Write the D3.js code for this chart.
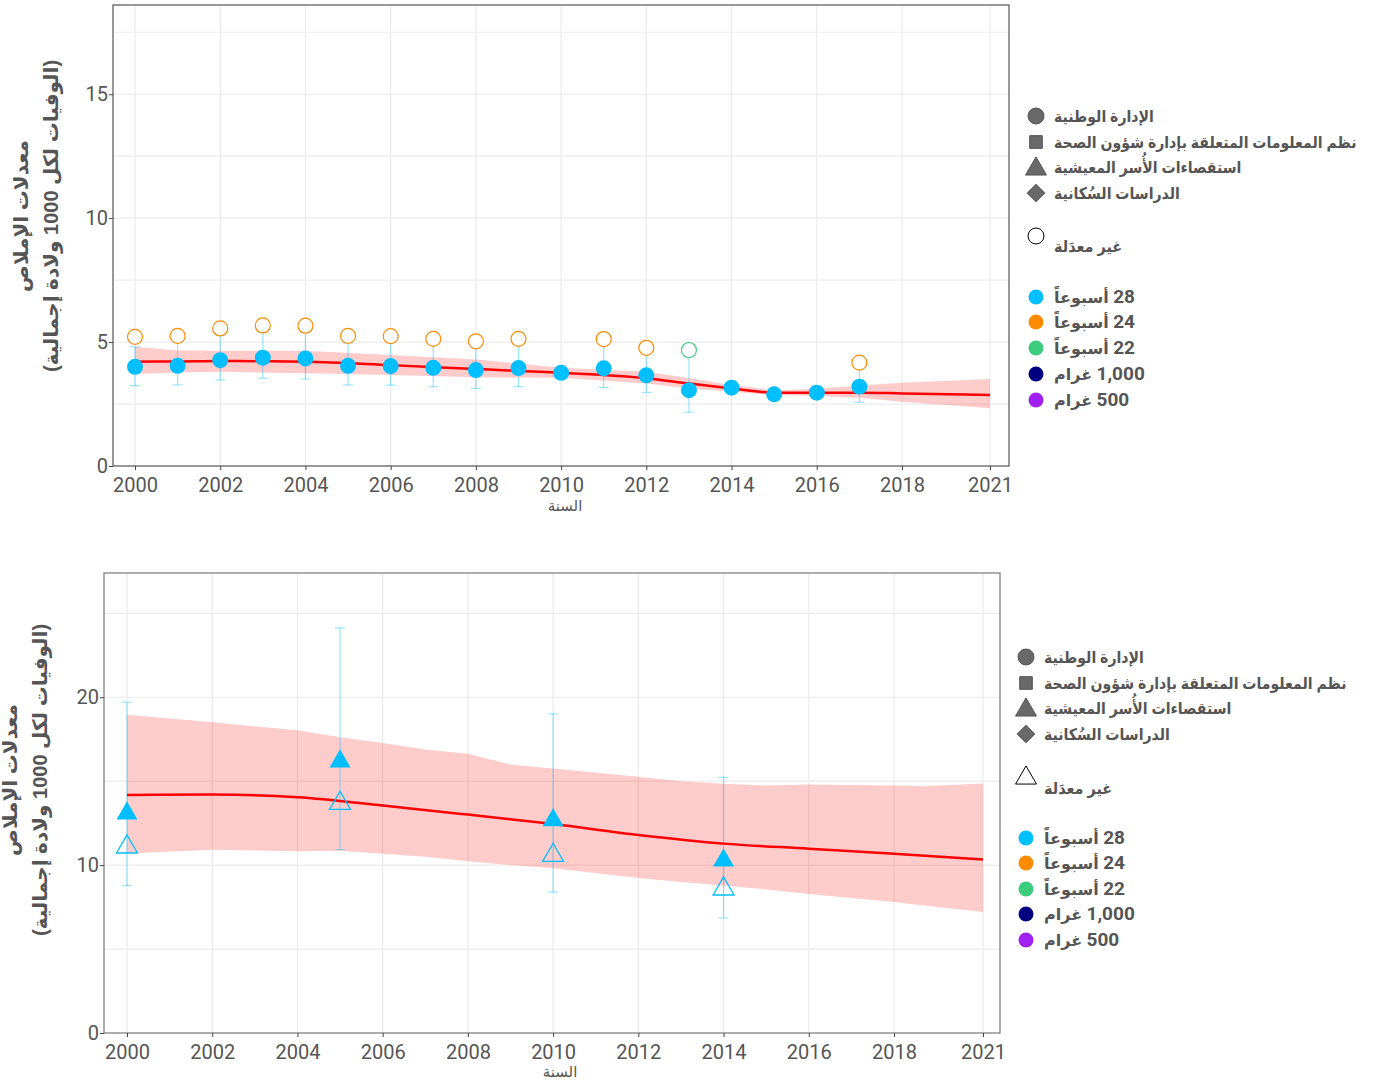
<!DOCTYPE html>
<html>
<head>
<meta charset="utf-8">
<script src="https://cdn.jsdelivr.net/npm/d3@7"></script>
<style>
  body { margin: 0; background: #fff; }
  svg { display: block; }
</style>
</head>
<body>
<div id="chart"></div>
<script>
const COLORS = {
  w28: "#00bfff",
  w24: "#ff8c00",
  w22: "#3dcc7e",
  g1000: "#000080",
  g500: "#a020f0",
};

const SOURCE_LABELS = [
  "الإدارة الوطنية",
  "نظم المعلومات المتعلقة بإدارة شؤون الصحة",
  "استقصاءات الأُسر المعيشية",
  "الدراسات السُكانية",
];
const SOURCE_SHAPES = ["circle", "square", "triangle", "diamond"];
const UNADJ_LABEL = "غير معدَلة";
const DEF_KEYS = ["w28", "w24", "w22", "g1000", "g500"];
const DEF_NUM = ["28", "24", "22", "1,000", "500"];
const DEF_UNIT = ["أسبوعاً", "أسبوعاً", "أسبوعاً", "غرام", "غرام"];

const X_TICKS = [2000, 2002, 2004, 2006, 2008, 2010, 2012, 2014, 2016, 2018, 2021];
const Y_TITLE_1 = "معدلات الإملاص";
const Y_TITLE_2 = "(الوفيات لكل 1000 ولادة إجمالية)";
const X_TITLE = "السنة";

// --- top panel: national administrative data, 28 weeks
const TOP_YEARS = [2000, 2001, 2002, 2003, 2004, 2005, 2006, 2007, 2008, 2009, 2010, 2011, 2012, 2013, 2014, 2015, 2016, 2017];
const TOP_ADJ = [4.00, 4.04, 4.27, 4.37, 4.34, 4.04, 4.03, 3.96, 3.87, 3.95, 3.76, 3.94, 3.66, 3.06, 3.16, 2.89, 2.96, 3.20];
const TOP_LO = [3.24, 3.27, 3.47, 3.54, 3.51, 3.27, 3.26, 3.20, 3.13, 3.20, null, 3.17, 2.97, 2.17, null, null, null, 2.57];
const TOP_HI = [4.81, 5.00, 5.28, 5.40, 5.40, 4.96, 5.00, 4.96, 4.77, 4.88, null, 4.88, 4.54, 4.41, null, null, null, 3.96];
const TOP_UNADJ_YEARS = [2000, 2001, 2002, 2003, 2004, 2005, 2006, 2007, 2008, 2009, 2011, 2012, 2013, 2017];
const TOP_UNADJ = [5.21, 5.25, 5.55, 5.67, 5.66, 5.25, 5.24, 5.13, 5.03, 5.13, 5.12, 4.77, 4.68, 4.17];
const TOP_UNADJ_DEF = ["w24", "w24", "w24", "w24", "w24", "w24", "w24", "w24", "w24", "w24", "w24", "w24", "w22", "w24"];
const TOP_TREND_YEARS = [2000, 2001, 2002, 2004, 2006, 2008, 2010, 2012, 2013, 2014, 2015, 2016, 2017, 2018, 2021];
const TOP_TREND = [4.21, 4.22, 4.24, 4.21, 4.07, 3.91, 3.76, 3.54, 3.33, 3.13, 2.96, 2.96, 2.96, 2.93, 2.86];
const TOP_BAND_HI = [4.81, 4.66, 4.65, 4.65, 4.48, 4.30, 3.96, 3.80, 3.55, 3.27, 3.05, 3.12, 3.25, 3.36, 3.51];
const TOP_BAND_LO = [3.71, 3.77, 3.80, 3.74, 3.67, 3.58, 3.56, 3.33, 3.13, 3.00, 2.86, 2.82, 2.75, 2.59, 2.33];

// --- bottom panel: household surveys, 28 weeks
const BOT_YEARS = [2000, 2005, 2010, 2014];
const BOT_ADJ = [13.2, 16.3, 12.8, 10.4];
const BOT_UNADJ = [11.2, 13.8, 10.7, 8.7];
const BOT_LO = [8.78, 10.92, 8.40, 6.85];
const BOT_HI = [19.7, 24.13, 19.01, 15.23];
const BOT_LINE_YEARS = [2000, 2002, 2004, 2006, 2008, 2010, 2012, 2014, 2016, 2018, 2021];
const BOT_LINE = [14.18, 14.20, 14.04, 13.55, 13.01, 12.45, 11.80, 11.28, 10.98, 10.68, 10.33];
const BOT_BAND_YEARS = [2000, 2002, 2004, 2005, 2006, 2007, 2008, 2009, 2010, 2012, 2013, 2014, 2015, 2016, 2018, 2019, 2021];
const BOT_BAND_HI = [18.95, 18.51, 18.03, 17.62, 17.28, 16.88, 16.63, 15.99, 15.76, 15.26, 15.0, 14.84, 14.74, 14.80, 14.74, 14.70, 14.86];
const BOT_BAND_LO = [10.69, 10.92, 10.82, 10.86, 10.67, 10.5, 10.23, 10.0, 9.82, 9.24, 9.0, 8.78, 8.55, 8.28, 7.81, 7.6, 7.21];

const W = 1376, H = 1080;
const TEXT = "#555";
const NUM_FONT = "Roboto, 'Liberation Sans', sans-serif";
const AR_FONT = "'Liberation Sans', 'DejaVu Sans', sans-serif";

const svg = d3.select("#chart").append("svg")
  .attr("width", W).attr("height", H)
  .attr("viewBox", `0 0 ${W} ${H}`);

function zip(xs, ys) {
  return xs.map((x, i) => ({ x, y: ys[i] }));
}

function drawPanel(cfg) {
  const { left, right, top, bottom } = cfg.frame;
  const x = d3.scaleLinear().domain([2000, 2018, 2021]).range(cfg.xRange);
  const y = d3.scaleLinear().domain([0, cfg.yMax]).range([bottom, top]);
  const g = svg.append("g");

  // grid
  const grid = g.append("g");
  cfg.yGrid.forEach((v) => {
    grid.append("line")
      .attr("x1", left).attr("x2", right).attr("y1", y(v)).attr("y2", y(v))
      .attr("stroke", "#ebebeb").attr("stroke-width", 1.2);
  });
  X_TICKS.forEach((v) => {
    grid.append("line")
      .attr("x1", x(v)).attr("x2", x(v)).attr("y1", top).attr("y2", bottom)
      .attr("stroke", "#ebebeb").attr("stroke-width", 1.2);
  });

  // uncertainty band
  const area = d3.area()
    .x((d) => x(d.x)).y0((d) => y(d.lo)).y1((d) => y(d.hi));
  g.append("path")
    .datum(cfg.bandYears.map((yr, i) => ({ x: yr, lo: cfg.bandLo[i], hi: cfg.bandHi[i] })))
    .attr("d", area)
    .attr("fill", "#ff0000").attr("fill-opacity", 0.2);

  // error bars
  const eb = g.append("g").attr("stroke", COLORS.w28).attr("stroke-opacity", 0.4).attr("stroke-width", 1.2);
  cfg.errYears.forEach((yr, i) => {
    const lo = cfg.errLo[i], hi = cfg.errHi[i];
    if (lo == null || hi == null) return;
    const cx = x(yr);
    eb.append("line").attr("x1", cx).attr("x2", cx).attr("y1", y(lo)).attr("y2", y(hi));
    eb.append("line").attr("x1", cx - 5).attr("x2", cx + 5).attr("y1", y(lo)).attr("y2", y(lo));
    eb.append("line").attr("x1", cx - 5).attr("x2", cx + 5).attr("y1", y(hi)).attr("y2", y(hi));
  });

  // trend
  const line = d3.line().x((d) => x(d.x)).y((d) => y(d.y)).curve(d3.curveMonotoneX);
  g.append("path")
    .datum(zip(cfg.lineYears, cfg.line))
    .attr("d", line)
    .attr("fill", "none").attr("stroke", "#ff0000").attr("stroke-width", 2.5);

  // points
  const pts = g.append("g");
  const tri = d3.symbol(d3.symbolTriangle, 190);
  cfg.unadj.forEach((d) => {
    const col = COLORS[d.def];
    if (cfg.shape === "circle") {
      pts.append("circle").attr("cx", x(d.x)).attr("cy", y(d.y)).attr("r", 7.5)
        .attr("fill", "#fff").attr("stroke", col).attr("stroke-width", 1.2);
    } else {
      pts.append("path").attr("d", tri)
        .attr("transform", `translate(${x(d.x)},${y(d.y) + 2})`)
        .attr("fill", "none").attr("stroke", col).attr("stroke-width", 1.3);
    }
  });
  cfg.adj.forEach((d) => {
    if (cfg.shape === "circle") {
      pts.append("circle").attr("cx", x(d.x)).attr("cy", y(d.y)).attr("r", 8)
        .attr("fill", COLORS.w28);
    } else {
      pts.append("path").attr("d", tri)
        .attr("transform", `translate(${x(d.x)},${y(d.y) + 2})`)
        .attr("fill", COLORS.w28);
    }
  });

  // frame
  g.append("rect")
    .attr("x", left).attr("y", top).attr("width", right - left).attr("height", bottom - top)
    .attr("fill", "none").attr("stroke", cfg.frameColor).attr("stroke-width", 1.2);

  // axes
  const xAxis = g.append("g").attr("transform", `translate(0,${bottom})`)
    .call(d3.axisBottom(x).tickValues(X_TICKS).tickFormat(d3.format("d")).tickSize(4).tickPadding(8));
  const yAxis = g.append("g").attr("transform", `translate(${left},0)`)
    .call(d3.axisLeft(y).tickValues(cfg.yTicks).tickSize(4).tickPadding(1));
  [xAxis, yAxis].forEach((ax) => {
    ax.select(".domain").remove();
    ax.selectAll(".tick line").attr("stroke", "#444");
    ax.selectAll("text").attr("fill", TEXT).attr("font-family", NUM_FONT).attr("font-size", 20);
  });

  // axis titles
  g.append("text")
    .attr("x", cfg.xTitle[0]).attr("y", cfg.xTitle[1])
    .attr("text-anchor", "middle")
    .attr("font-family", AR_FONT).attr("font-size", 15).attr("fill", TEXT)
    .text(X_TITLE);
  const yt = g.append("text")
    .attr("transform", `translate(${cfg.yTitleX},${cfg.yTitleY}) rotate(-90)`)
    .attr("text-anchor", "middle")
    .attr("font-family", AR_FONT).attr("font-size", 20).attr("font-weight", "bold").attr("fill", TEXT);
  yt.append("tspan").attr("x", 0).attr("dy", 0).text(Y_TITLE_1);
  yt.append("tspan").attr("x", 0).attr("dy", 30).text(Y_TITLE_2);

  // legend
  const lg = g.append("g").attr("font-family", AR_FONT).attr("font-weight", "bold")
    .attr("font-size", 16).attr("fill", TEXT);
  const lx = cfg.legend.x, tx = cfg.legend.x + 18;
  const shapeGen = {
    circle: d3.symbol(d3.symbolCircle, 200),
    square: d3.symbol(d3.symbolSquare, 160),
    triangle: d3.symbol(d3.symbolTriangle, 190),
    diamond: d3.symbol(d3.symbolSquare, 150),
  };
  SOURCE_LABELS.forEach((lab, i) => {
    const yy = cfg.legend.srcY[i];
    const shp = SOURCE_SHAPES[i];
    const rot = shp === "diamond" ? " rotate(45)" : "";
    lg.append("path").attr("d", shapeGen[shp])
      .attr("transform", `translate(${lx},${yy + (shp === "triangle" ? 2 : 0)})${rot}`)
      .attr("fill", "#696969").attr("stroke", "#555").attr("stroke-width", 1);
    lg.append("text").attr("transform", `translate(${tx},${yy + 6}) scale(0.88,1)`).text(lab);
  });
  const uy = cfg.legend.unadjY;
  lg.append("path").attr("d", shapeGen[cfg.shape === "circle" ? "circle" : "triangle"])
    .attr("transform", `translate(${lx},${uy})`)
    .attr("fill", "#fff").attr("stroke", "#000").attr("stroke-width", 1);
  lg.append("text").attr("transform", `translate(${tx},${uy + 16}) scale(0.9,1)`).text(UNADJ_LABEL);
  DEF_KEYS.forEach((k, i) => {
    const yy = cfg.legend.defY[i];
    lg.append("circle").attr("cx", lx).attr("cy", yy).attr("r", 7.5).attr("fill", COLORS[k]);
    const t = lg.append("text").attr("x", tx).attr("y", yy + 6).attr("direction", "rtl")
      .attr("text-anchor", "end");
    t.append("tspan").attr("font-family", NUM_FONT).attr("font-size", 19).text(DEF_NUM[i]);
    t.append("tspan").text(" " + DEF_UNIT[i]);
  });
}

drawPanel({
  frame: { left: 113, right: 1009, top: 5, bottom: 466 },
  xRange: [135, 902, 990],
  yMax: 18.6,
  yTicks: [0, 5, 10, 15],
  yGrid: [2.5, 5, 7.5, 10, 12.5, 15, 17.5],
  frameColor: "#555",
  shape: "circle",
  bandYears: TOP_TREND_YEARS, bandLo: TOP_BAND_LO, bandHi: TOP_BAND_HI,
  lineYears: TOP_TREND_YEARS, line: TOP_TREND,
  errYears: TOP_YEARS, errLo: TOP_LO, errHi: TOP_HI,
  adj: zip(TOP_YEARS, TOP_ADJ),
  unadj: TOP_UNADJ_YEARS.map((x, i) => ({ x, y: TOP_UNADJ[i], def: TOP_UNADJ_DEF[i] })),
  xTitle: [565, 511],
  yTitleX: 28, yTitleY: 216,
  legend: { x: 1036, srcY: [116, 142, 167, 193], unadjY: 236, defY: [297, 322, 348, 374, 400] },
});

drawPanel({
  frame: { left: 104, right: 1000, top: 573, bottom: 1033 },
  xRange: [127, 894, 983],
  yMax: 27.4,
  yTicks: [0, 10, 20],
  yGrid: [5, 10, 15, 20, 25],
  frameColor: "#777",
  shape: "triangle",
  bandYears: BOT_BAND_YEARS, bandLo: BOT_BAND_LO, bandHi: BOT_BAND_HI,
  lineYears: BOT_LINE_YEARS, line: BOT_LINE,
  errYears: BOT_YEARS, errLo: BOT_LO, errHi: BOT_HI,
  adj: zip(BOT_YEARS, BOT_ADJ),
  unadj: BOT_YEARS.map((x, i) => ({ x, y: BOT_UNADJ[i], def: "w28" })),
  xTitle: [560, 1077],
  yTitleX: 17, yTitleY: 780,
  legend: { x: 1026, srcY: [657, 683, 708, 734], unadjY: 778, defY: [838, 863, 889, 914, 940] },
});
</script>
</body>
</html>
